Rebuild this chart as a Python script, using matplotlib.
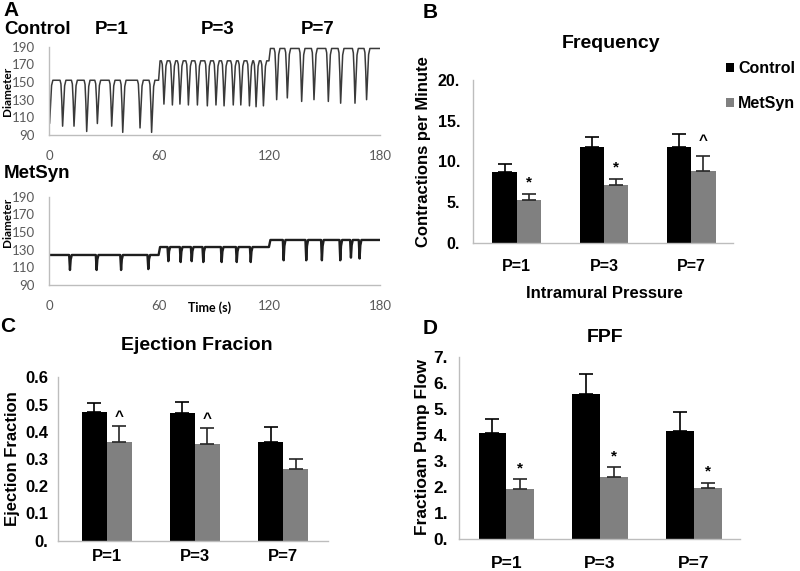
import numpy as np
import matplotlib
matplotlib.use("Agg")
import matplotlib.pyplot as plt

# ---------------- data ----------------
segments = [0, 60, 120, 180]
pressures = ["P=1", "P=3", "P=7"]

# Panel A: diameter traces (baselines per pressure segment, dip times and dip minima)
ctrl_base = [152, 174, 188]
ctrl_dip_t = [0.3, 7.4, 13.6, 20.5, 26.3, 34.1, 40.1, 49.5, 55.8,
              62.5, 67.1, 71.2, 75.8, 80.7, 86.1, 90.8, 95.2, 100.2, 104.3, 109.0, 112.6, 116.6,
              123.8, 129.6, 137.4, 144.1, 151.9, 158.6, 166.4, 172.7]
ctrl_dip_min = [103, 100, 100, 94, 103, 100, 93, 98, 93,
                125, 124, 125, 124, 124, 123, 124, 123, 124, 124, 123, 122, 123,
                130, 132, 128, 130, 128, 126, 126, 130]

ms_base = [124, 133, 141]
ms_dip_t = [11.4, 25.9, 39.2, 54.0,
            64.9, 71.6, 77.6, 83.9, 93.9, 102.1, 109.7,
            127.6, 139.9, 148.4, 158.4, 164.2, 168.9]
ms_dip_min = [107, 107, 107, 108,
              117, 116, 117, 116, 116, 116, 116,
              118, 118, 118, 118, 121, 120]

# Panel B: frequency
ctrl_freq = [8.7, 11.8, 11.8]
ctrl_freq_err = [1.0, 1.25, 1.6]
ms_freq = [5.2, 7.1, 8.8]
ms_freq_err = [0.8, 0.75, 1.85]
freq_marks = ["*", "*", "^"]
freq_ticks = [0, 5, 10, 15, 20]
freq_ticklabels = ["0.", "5.", "10.", "15.", "20."]

# Panel C: ejection fraction
ctrl_ef = [0.472, 0.470, 0.364]
ctrl_ef_err = [0.034, 0.039, 0.055]
ms_ef = [0.364, 0.355, 0.264]
ms_ef_err = [0.057, 0.059, 0.037]
ef_marks = ["^", "^", ""]
ef_ticks = [0, 0.1, 0.2, 0.3, 0.4, 0.5, 0.6]
ef_ticklabels = ["0.", "0.1", "0.2", "0.3", "0.4", "0.5", "0.6"]

# Panel D: fractional pump flow
ctrl_fpf = [4.06, 5.57, 4.16]
ctrl_fpf_err = [0.54, 0.77, 0.73]
ms_fpf = [1.93, 2.40, 1.97]
ms_fpf_err = [0.37, 0.36, 0.20]
fpf_marks = ["*", "*", "*"]
fpf_ticks = [0, 1, 2, 3, 4, 5, 6, 7]
fpf_ticklabels = ["0.", "1.", "2.", "3.", "4.", "5.", "6.", "7."]

# ---------------- style ----------------
BOLD = "Liberation Sans"
LIGHT = "Lato"
SPINE = "#bdbdbd"
GRAY = "#808080"

W, H = 800, 571
fig = plt.figure(figsize=(W / 100, H / 100), dpi=100)


def rect(l, t, r, b):
    return [l / W, 1 - b / H, (r - l) / W, (b - t) / H]


def ftext(x, y, s, size, ha="center", va="center", rot=0, family=BOLD, weight="bold", color="black"):
    fig.text(x / W, 1 - y / H, s, fontsize=size, ha=ha, va=va, rotation=rot,
             family=family, weight=weight, color=color)


def build_trace(bases, dip_t, dip_min, rel_t, rel_f, steps):
    pts = []
    for i, b in enumerate(bases):
        lo, hi = segments[i], segments[i + 1]
        pts.append((lo + (steps if i > 0 else 0), b))
        pts.append((hi - steps if i < len(bases) - 1 else hi, b))
    for t, m in zip(dip_t, dip_min):
        seg = min(int(t // 60), 2)
        b = bases[seg]
        for dt, f in zip(rel_t, rel_f):
            pts.append((t + dt, b - f * (b - m)))
    pts.sort(key=lambda p: p[0])
    arr = np.array(pts)
    arr = arr[(arr[:, 0] >= 0) & (arr[:, 0] <= 180)]
    return arr[:, 0], arr[:, 1]


def style_trace_axes(ax):
    ax.set_xlim(0, 180)
    ax.set_ylim(90, 190)
    ax.set_yticks([90, 110, 130, 150, 170, 190])
    ax.set_xticks([0, 60, 120, 180])
    for s in ["top", "right"]:
        ax.spines[s].set_visible(False)
    for s in ["left", "bottom"]:
        ax.spines[s].set_color(SPINE)
        ax.spines[s].set_linewidth(1.0)
    ax.tick_params(length=0, labelsize=9.5, labelcolor="#595959")
    ax.tick_params(axis="y", pad=10)
    ax.tick_params(axis="x", pad=11)
    for lab in ax.get_xticklabels() + ax.get_yticklabels():
        lab.set_family(LIGHT)


# Panel A - control
axA1 = fig.add_axes(rect(49, 46.7, 380, 135))
tx, ty = build_trace(ctrl_base, ctrl_dip_t, ctrl_dip_min,
                     [-1.4, -0.9, -0.45, 0, 0.5, 1.1, 1.8],
                     [0, 0.08, 0.45, 1, 0.6, 0.12, 0], 0.4)
axA1.plot(tx, ty, color="#3a3a3a", lw=1.1)
style_trace_axes(axA1)

# Panel A - MetSyn
axA2 = fig.add_axes(rect(49, 196.7, 380, 285))
tx, ty = build_trace(ms_base, ms_dip_t, ms_dip_min,
                     [-0.45, 0, 0.4, 1.0],
                     [0, 1, 0.3, 0], 0.4)
axA2.plot(tx, ty, color="#1e1e1e", lw=1.7)
style_trace_axes(axA2)

ftext(3, 10, "A", 15, ha="left")
ftext(4, 30, "Control", 13.5, ha="left")
ftext(112, 30, "P=1", 13.5)
ftext(218, 30, "P=3", 13.5)
ftext(318, 30, "P=7", 13.5)
ftext(4, 173.5, "MetSyn", 13.5, ha="left")
ftext(8, 91, "Diameter", 8.5, rot=90, family=LIGHT)
ftext(8, 222, "Diameter", 8.5, rot=90, family=LIGHT)
ftext(210, 308, "Time (s)", 9, family=LIGHT)


def bar_panel(ax, ctrl, ctrl_err, ms, ms_err, marks, width, xlim, ylim, ticks, ticklabels,
              tick_size, ypad, xpad, mark_off):
    x = np.arange(len(pressures))
    b1 = ax.bar(x - width / 2, ctrl, width, color="black", label="Control",
                yerr=[np.zeros(len(ctrl)), ctrl_err], capsize=5,
                error_kw=dict(ecolor="black", elinewidth=1.2, capthick=1.2))
    b2 = ax.bar(x + width / 2, ms, width, color=GRAY, label="MetSyn",
                yerr=[np.zeros(len(ms)), ms_err], capsize=5,
                error_kw=dict(ecolor="#262626", elinewidth=1.2, capthick=1.2))
    for xi, m, e, mk in zip(x, ms, ms_err, marks):
        if mk:
            off = mark_off[0] if mk == "*" else mark_off[1]
            ax.annotate(mk, (xi + width / 2, m + e), xytext=(0, off), textcoords="offset points",
                        ha="center", va="baseline", fontsize=11, fontweight="bold", family=BOLD)
    ax.set_xlim(*xlim)
    ax.set_ylim(*ylim)
    ax.set_yticks(ticks)
    ax.set_yticklabels(ticklabels)
    ax.set_xticks(x)
    ax.set_xticklabels(pressures)
    for s in ["top", "right"]:
        ax.spines[s].set_visible(False)
    for s in ["left", "bottom"]:
        ax.spines[s].set_color(SPINE)
        ax.spines[s].set_linewidth(1.0)
    ax.tick_params(length=0, labelsize=tick_size)
    ax.tick_params(axis="y", pad=ypad)
    ax.tick_params(axis="x", pad=xpad)
    for lab in ax.get_xticklabels() + ax.get_yticklabels():
        lab.set_family(BOLD)
        lab.set_fontweight("bold")
    return b1, b2


# Panel B
axB = fig.add_axes(rect(472.7, 80, 733, 242.7))
b1, b2 = bar_panel(axB, ctrl_freq, ctrl_freq_err, ms_freq, ms_freq_err, freq_marks, 0.28,
                   (-0.505, 2.48), (0, 20), freq_ticks, freq_ticklabels, 11.5, 9, 12, (5.5, 8))
ftext(430, 12, "B", 15)
ftext(611, 43, "Frequency", 14)
ftext(423, 152, "Contractions per Minute", 12, rot=90)
ftext(604, 293, "Intramural Pressure", 12)
fig.legend(handles=[b1, b2], labels=["Control", "MetSyn"], loc="upper left",
           bbox_to_anchor=(726 / W, 1 - 61 / H), frameon=False,
           handlelength=0.5, handleheight=0.5, handletextpad=0.25, labelspacing=1.25,
           borderpad=0, borderaxespad=0,
           prop=dict(family=BOLD, weight="bold", size=11.5))

# Panel C
axC = fig.add_axes(rect(58.3, 377.3, 328, 540.7))
bar_panel(axC, ctrl_ef, ctrl_ef_err, ms_ef, ms_ef_err, ef_marks, 0.283,
          (-0.55, 2.51), (0, 0.6), ef_ticks, ef_ticklabels, 12, 7, 6, (5, 3.5))
ftext(8, 327, "C", 15)
ftext(197, 345, "Ejection Fracion", 14)
ftext(13, 459, "Ejection Fraction", 12, rot=90)

# Panel D
axD = fig.add_axes(rect(459.3, 356.7, 740, 539.3))
bar_panel(axD, ctrl_fpf, ctrl_fpf_err, ms_fpf, ms_fpf_err, fpf_marks, 0.295,
          (-0.5, 2.49), (0, 7), fpf_ticks, fpf_ticklabels, 12.5, 8, 12, (5, 3.5))
ftext(430, 328, "D", 15)
ftext(605, 337, "FPF", 14)
ftext(422, 447, "Fractioan Pump Flow", 12.5, rot=90)

fig.savefig("out.png", dpi=100)
